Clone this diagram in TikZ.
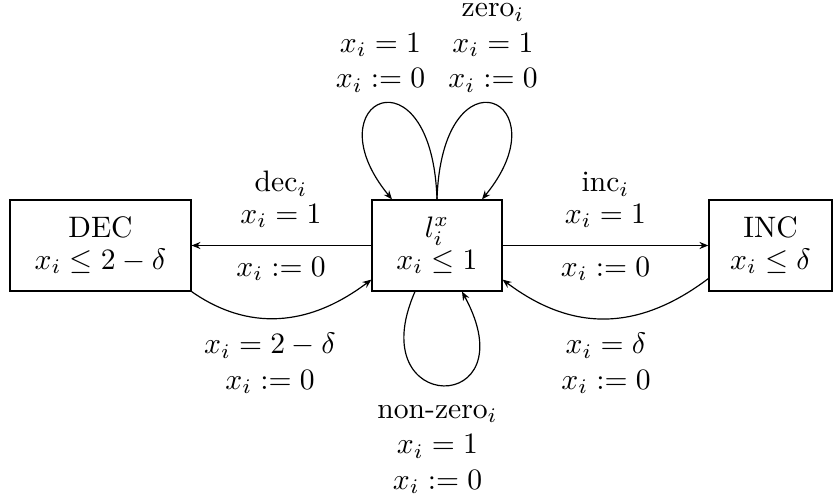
\documentclass[tikz,border=0pt]{standalone}
\usetikzlibrary{arrows.meta,calc}
\begin{document}
\begin{tikzpicture}[x=0.3378pt,y=-0.3378pt,
  >={Stealth[length=3pt,width=2.4pt]},
  box/.style={draw, align=center, inner sep=0pt, minimum height=30.74pt,
    font=\fontsize{10}{10.7}\selectfont},
  lbl/.style={align=center, inner sep=0pt, font=\fontsize{10}{12}\selectfont},
  tlbl/.style={align=center, inner sep=0pt, font=\fontsize{10}{10.7}\selectfont}]
\useasboundingbox (0,0) rectangle (833,502);
% states
\node[box, minimum width=61.14pt] (dec) at (100.5,245.5) {DEC\\$x_i\le 2-\delta$};
\node[box, minimum width=43.9pt] (l) at (437,245.5) {$l_i^x$\\$x_i\le 1$};
\node[box, minimum width=41.6pt] (inc) at (770.5,245.5) {INC\\$x_i\le\delta$};
% straight transitions
\draw[->] (l.west) -- (dec.east);
\draw[->] (l.east) -- (inc.west);
\node[tlbl] (ldecA) at (281,199.5) {dec$_i$\\$x_i=1$};
\node[tlbl] (ldecB) at (281,268.7) {$x_i:=0$};
\node[tlbl] (lincA) at (605.5,200) {inc$_i$\\$x_i=1$};
\node[tlbl] (lincB) at (605.5,268.7) {$x_i:=0$};
% return curves
\draw[->] (dec.south east) .. controls +(49,34.4) and +(-70.3,53) .. ($(l.south west)+(0,-12)$);
\draw[->] ($(inc.south west)+(0,-13)$) .. controls +(-70,52.7) and +(70,52.7) .. ($(l.south east)+(0,-12)$);
\node[lbl, anchor=south] (lret1) at (270,394.5) {$x_i=2-\delta$\\$x_i:=0$};
\node[lbl, anchor=south] (lret2) at (606,394.5) {$x_i=\delta$\\$x_i:=0$};
% top loops
\draw[->] (l.north) .. controls +(-5,-155) and +(-82,-100) .. ($(l.north)+(-45,0)$);
\draw[->] (l.north) .. controls +(5,-155) and +(82,-100) .. ($(l.north)+(45,0)$);
\node[lbl, anchor=south] (ltop1) at (380.5,92.7) {$x_i=1$\\$x_i:=0$};
\node[lbl, anchor=south] (ltop2) at (493,92.7) {zero$_i$\\$x_i=1$\\$x_i:=0$};
% bottom loop
\draw[->] ($(l.south)+(-22,0)$) .. controls +(-55,125) and +(68,125) .. ($(l.south)+(25,0)$);
\node[lbl, anchor=south] (lbot) at (437.5,494.4) {non-zero$_i$\\$x_i=1$\\$x_i:=0$};
\end{tikzpicture}
\end{document}
